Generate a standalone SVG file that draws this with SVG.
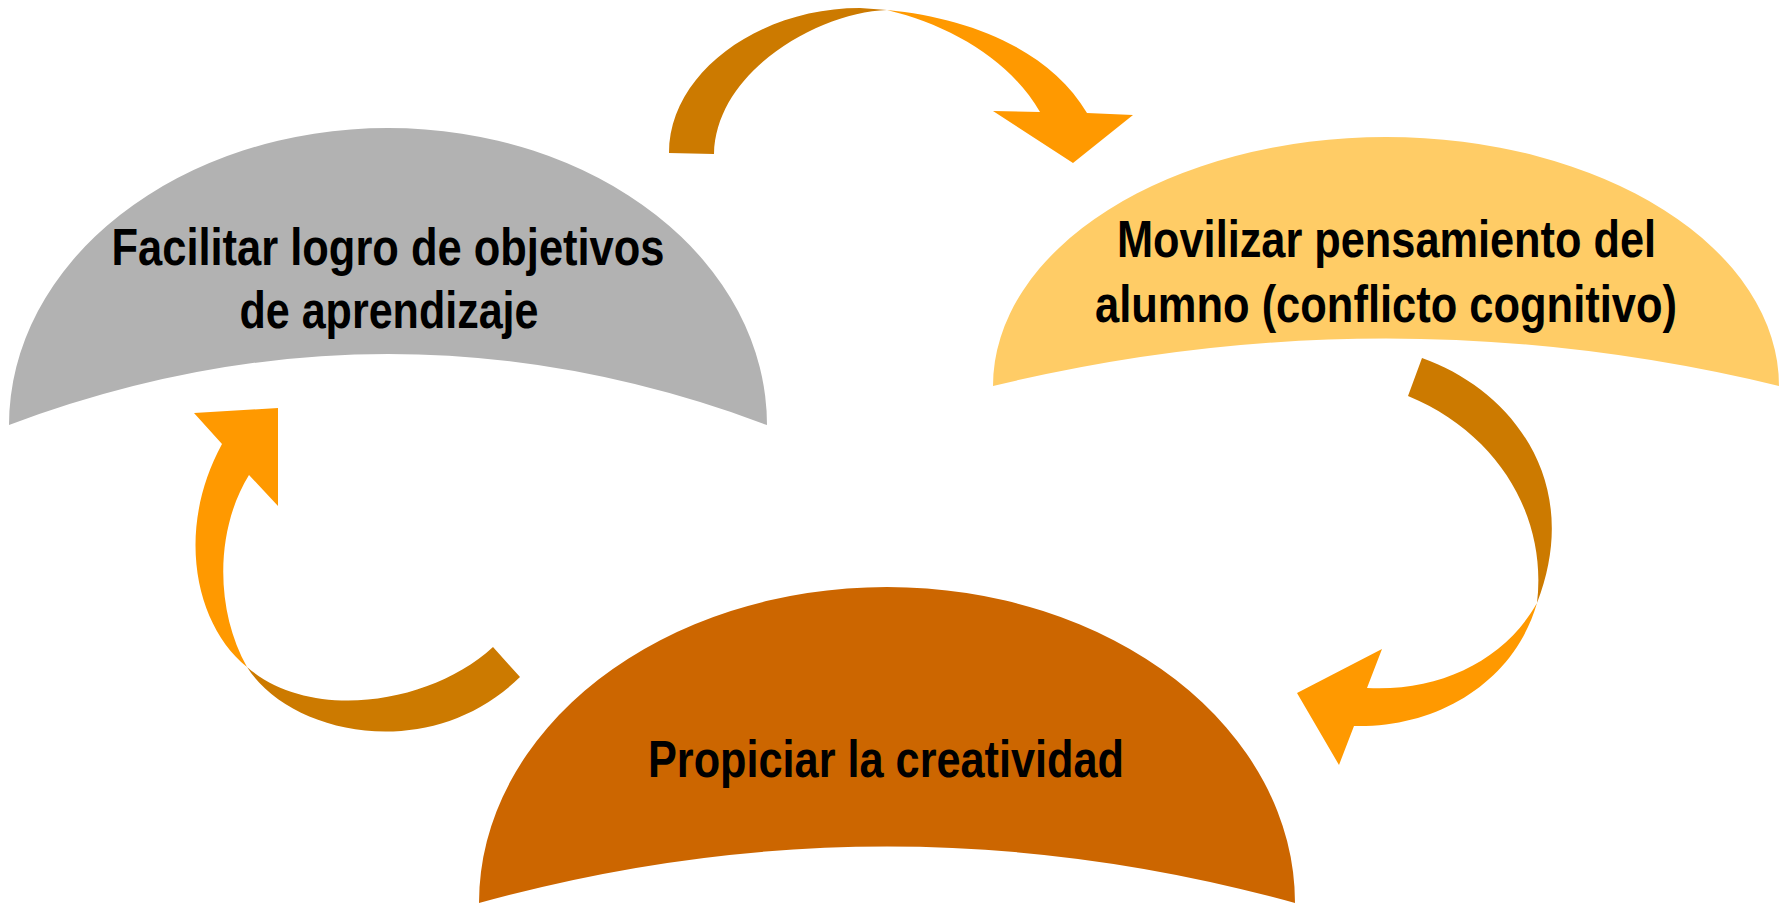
<svg xmlns="http://www.w3.org/2000/svg" width="1781" height="903" viewBox="0 0 1781 903">
<style>
.lbl{font-family:"Liberation Sans",Arial,sans-serif;font-weight:bold;font-size:52px;fill:#000;text-anchor:middle}
.dark{fill:#CC7A00}
.light{fill:#FF9900}
</style>
<rect width="1781" height="903" fill="#FFFFFF"/>
<g id="node-facilitar">
<path d="M9,425 A379,297 0 0 1 767,425 Q388,283 9,425 Z" fill="#B2B2B2"/>
<text class="lbl" x="388" y="265" textLength="553" lengthAdjust="spacingAndGlyphs">Facilitar logro de objetivos</text>
<text class="lbl" x="389" y="328" textLength="299" lengthAdjust="spacingAndGlyphs">de aprendizaje</text>
</g>
<g id="node-movilizar">
<path d="M993,386 A393,249 0 0 1 1779,386 Q1386,291 993,386 Z" fill="#FFCC66"/>
<text class="lbl" x="1386.5" y="257" textLength="539" lengthAdjust="spacingAndGlyphs">Movilizar pensamiento del</text>
<text class="lbl" x="1386" y="322" textLength="582" lengthAdjust="spacingAndGlyphs">alumno (conflicto cognitivo)</text>
</g>
<g id="node-propiciar">
<path d="M479,903 A408,316 0 0 1 1295,903 Q887,790 479,903 Z" fill="#CC6600"/>
<text class="lbl" x="886" y="777" textLength="476" lengthAdjust="spacingAndGlyphs">Propiciar la creatividad</text>
</g>
<g id="connectors">
<g id="arrow-top">
<path class="dark" d="M669,153 C669,73 759,8 860,8 L887,10 C820,12 716,70 714,154 Z"/>
<path class="light" d="M887,10 C970,18 1050,50 1087,113 L1133,115 L1073,163 L993,111 L1040,112 C1010,60 950,25 887,10 Z"/>
</g>
<g id="arrow-right">
<path class="dark" d="M1422,358 C1512,390 1584,482 1537,603 C1547,520 1502,435 1408,396 Z"/>
<path class="light" d="M1537,603 C1515,680 1440,728 1354,726 L1339,765 L1297,693 L1382,649 L1367,688 C1440,692 1505,660 1537,603 Z"/>
</g>
<g id="arrow-left">
<path class="dark" d="M247,667 C290,735 430,765 520,677 L493,647 C430,705 310,722 247,667 Z"/>
<path class="light" d="M247,667 C195,625 175,530 222,444 L194,413 L278,408 L278,506 L249,475 C215,530 215,610 247,667 Z"/>
</g>
</g>
</svg>
